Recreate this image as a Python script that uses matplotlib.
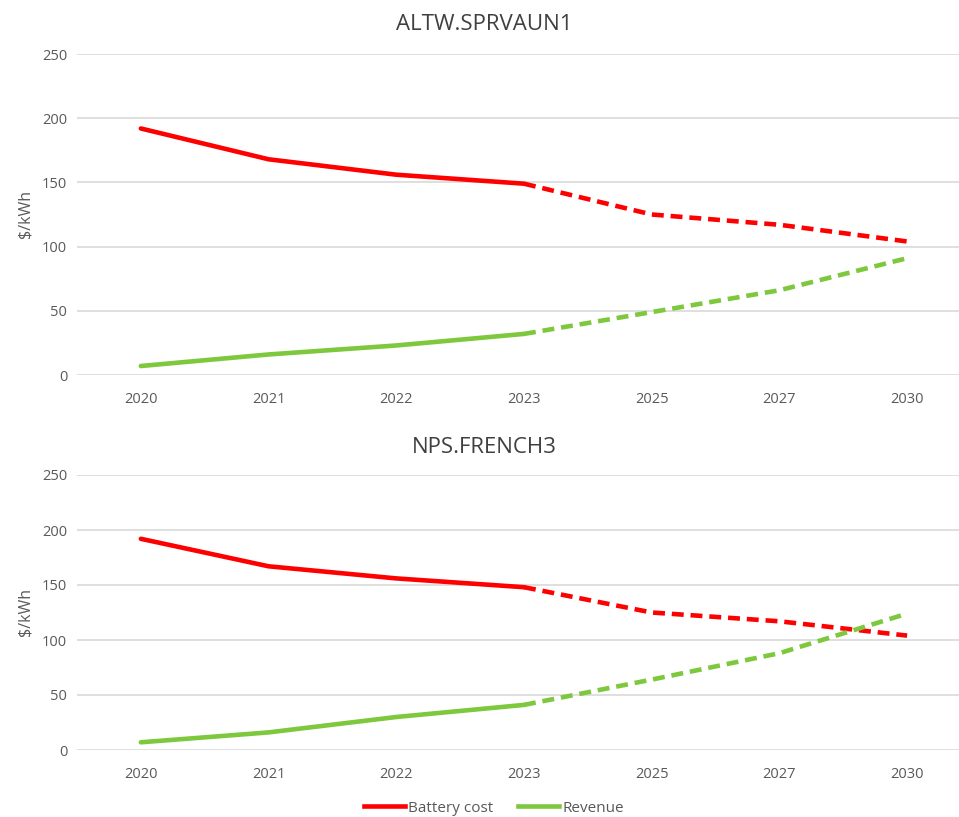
import matplotlib
matplotlib.use("Agg")
import matplotlib.pyplot as plt
from matplotlib.lines import Line2D

plt.rcParams['font.family'] = ['Open Sans', 'DejaVu Sans']

years = ["2020", "2021", "2022", "2023", "2025", "2027", "2030"]
n_actual = 4  # 2020-2023 solid, then dashed projection

titles = ["ALTW.SPRVAUN1", "NPS.FRENCH3"]
battery_cost_top = [192, 168, 156, 149, 125, 117, 104]
revenue_top = [7, 16, 23, 32, 49, 66, 91]
battery_cost_bottom = [192, 167, 156, 148, 125, 117, 104]
revenue_bottom = [7, 16, 30, 41, 64, 88, 124]
yticks = [0, 50, 100, 150, 200, 250]

RED = "#ff0000"
GREEN = "#7dc83c"
GRID = "#d9d9d9"
TXT = "#595959"

fig = plt.figure(figsize=(9.59, 8.17), dpi=100)
W, H = 959, 817

def px_axes(x0, y0, x1, y1):
    return fig.add_axes([x0 / W, 1 - y1 / H, (x1 - x0) / W, (y1 - y0) / H])

ax_top = px_axes(77, 54, 971, 375)
ax_bot = px_axes(77, 475, 971, 750)

x = list(range(len(years)))
lw = 3.3

def draw(ax, title, cost, rev, title_y):
    ax.set_ylim(0, 250)
    ax.set_xlim(-0.5, len(years) - 0.5)
    ax.set_yticks(yticks)
    ax.set_xticks(x)
    ax.set_xticklabels(years)
    ax.grid(axis='y', color=GRID, linewidth=1.2)
    ax.set_axisbelow(True)
    for s in ax.spines.values():
        s.set_visible(False)
    ax.tick_params(length=0, colors=TXT, labelsize=10.5)
    ax.tick_params(axis='x', pad=12)
    ax.tick_params(axis='y', pad=7)
    for series, col in ((cost, RED), (rev, GREEN)):
        ax.plot(x[:n_actual], series[:n_actual], color=col, lw=lw,
                solid_capstyle='round', solid_joinstyle='round', zorder=3)
        ax.plot(x[n_actual - 1:], series[n_actual - 1:], color=col, lw=lw,
                dashes=(2.6, 1.5), dash_capstyle='butt', zorder=3)
    ax.set_ylabel("$/kWh", color=TXT, fontsize=11.5, labelpad=6)
    fig.text(0.505, 1 - title_y / H, title, ha='center', va='center',
             fontsize=16, color="#404040")

draw(ax_top, titles[0], battery_cost_top, revenue_top, 25)
draw(ax_bot, titles[1], battery_cost_bottom, revenue_bottom, 448)

handles = [Line2D([], [], color=RED, lw=lw), Line2D([], [], color=GREEN, lw=lw)]
fig.legend(handles, ["Battery cost", "Revenue"], loc='center',
           bbox_to_anchor=(0.515, 1 - 808 / H), ncol=2, frameon=False,
           fontsize=11, handlelength=2.7, handletextpad=0.2, columnspacing=1.6,
           labelcolor=TXT)

fig.savefig("out.png", dpi=100)
